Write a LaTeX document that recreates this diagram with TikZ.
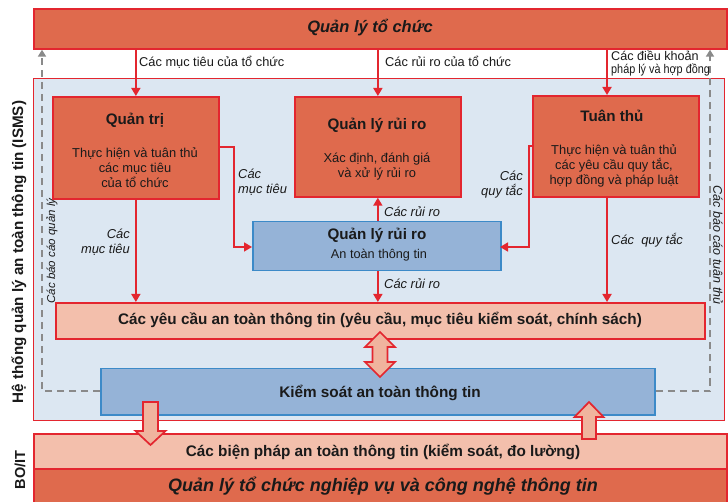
\documentclass[tikz,border=0pt]{standalone}
\usepackage{fontspec}
\setmainfont{Liberation Sans}
\usetikzlibrary{arrows.meta,calc}
\definecolor{redc}{HTML}{E3262F}
\definecolor{orangec}{HTML}{DF6A4D}
\definecolor{salmonc}{HTML}{F3BFAC}
\definecolor{arrowfill}{HTML}{F0B49E}
\definecolor{bluefill}{HTML}{95B3D7}
\definecolor{blueline}{HTML}{3C8AC8}
\definecolor{lightbg}{HTML}{DCE7F2}
\definecolor{txt}{HTML}{1A1A1A}
\definecolor{graydash}{HTML}{8A8A8A}
\tikzset{
  boxbase/.style={anchor=north west, inner sep=0pt, rectangle},
  orangebox/.style={boxbase, draw=redc, fill=orangec, line width=1.7pt},
  salmonbox/.style={boxbase, draw=redc, fill=salmonc, line width=1.7pt},
  bluebox/.style={boxbase, draw=blueline, fill=bluefill, line width=1.5pt},
  redarrow/.style={draw=redc, line width=1.7pt, -{Triangle[length=8pt,width=9pt]}},
  dashgray/.style={draw=graydash, line width=2pt, dash pattern=on 7pt off 5pt},
  blockarrow/.style={draw=redc, fill=arrowfill, line width=1.7pt, line join=miter},
  bartext/.style={font=\fontsize{16.5}{19}\selectfont\bfseries\itshape, text=txt},
  titletext/.style={font=\fontsize{15.2}{18}\selectfont\bfseries, text=txt},
  bodytext/.style={font=\fontsize{12.9}{15}\selectfont, text=txt, align=center},
  bigtext/.style={font=\fontsize{15.3}{18}\selectfont\bfseries, text=txt},
  lbl/.style={font=\fontsize{12.8}{15}\selectfont, text=txt, inner sep=0pt},
  ilbl/.style={font=\fontsize{12.9}{15}\selectfont\itshape, text=txt, inner sep=0pt},
  sidelbl/.style={font=\fontsize{11.5}{13}\selectfont\itshape, text=txt, inner sep=0pt},
}
\begin{document}
\begin{tikzpicture}[x=1pt,y=-1pt]
\useasboundingbox (0,0) rectangle (728,502);
\fill[white] (0,0) rectangle (728,502);

% outer ISMS area
\node[boxbase, draw=redc, fill=lightbg, line width=1.4pt, minimum width=691pt, minimum height=342pt] (isms) at (33,78) {};

% top bar
\node[orangebox, minimum width=693pt, minimum height=40pt] (topbar) at (33,8) {};
\node[bartext] (topbarT) at (370,28) {Quản lý tổ chức};

% dashed report lines
\coordinate (ldash) at (42,391);
\coordinate (rdash) at (710,391);
\node[boxbase, draw=blueline, fill=bluefill, line width=1.5pt, minimum width=554pt, minimum height=46pt] (ks) at (100,368) {};
\draw[dashgray, -{Triangle[length=7pt,width=8pt]}] (ks.west |- ldash) -- (ldash) -- (ldash |- topbar.south);
\draw[dashgray, -{Triangle[length=7pt,width=8pt]}] (ks.east |- rdash) -- (rdash) -- (rdash |- topbar.south);
\node[sidelbl, rotate=90] (lrep) at (52,251) {Các báo cáo quản lý};
\node[sidelbl, rotate=-90, font=\fontsize{12.5}{14}\selectfont\itshape] (rrep) at (718,245) {Các báo cáo tuân thủ};

% three top boxes
\node[orangebox, minimum width=166pt, minimum height=102pt] (qt) at (52,96) {};
\node[titletext] (qtT) at (135,120) {Quản trị};
\node[bodytext] (qtB) at (135,168) {Thực hiện và tuân thủ\\các mục tiêu\\của tổ chức};

\node[orangebox, minimum width=166pt, minimum height=100pt] (qlrr) at (294,96) {};
\node[titletext] (qlrrT) at (377,125) {Quản lý rủi ro};
\node[bodytext] (qlrrB) at (377,166.5) {Xác định, đánh giá\\và xử lý rủi ro};

\node[orangebox, minimum width=166pt, minimum height=101pt] (tt) at (532,95) {};
\node[titletext] (ttT) at (612,116) {Tuân thủ};
\node[bodytext] (ttB) at (614,165.5) {Thực hiện và tuân thủ\\các yêu cầu quy tắc,\\hợp đồng và pháp luật};

% blue risk box
\node[bluebox, minimum width=248pt, minimum height=49pt] (rrb) at (252,221) {};
\node[titletext] (rrbT) at (377,235) {Quản lý rủi ro};
\node[font=\fontsize{12.7}{15}\selectfont, text=txt] (rrbB) at (379,255) {An toàn thông tin};

% requirements box
\node[salmonbox, minimum width=649pt, minimum height=36pt] (yc) at (55,302) {};
\node[bigtext] (ycT) at (380,320) {Các yêu cầu an toàn thông tin (yêu cầu, mục tiêu kiểm soát, chính sách)};

% control box text
\node[bigtext] (ksT) at (380,393) {Kiểm soát an toàn thông tin};

% bottom boxes
\node[salmonbox, minimum width=693pt, minimum height=35pt] (bp) at (33,433) {};
\node[bigtext] (bpT) at (383,452) {Các biện pháp an toàn thông tin (kiểm soát, đo lường)};
\node[orangebox, minimum width=693pt, minimum height=38pt] (bot) at (33,468) {};
\node[bartext, font=\fontsize{18}{20}\selectfont\bfseries\itshape] (botT) at (383,486) {Quản lý tổ chức nghiệp vụ và công nghệ thông tin};

% vertical side labels
\node[font=\fontsize{15.2}{17}\selectfont\bfseries, text=txt, rotate=90] (ismsT) at (19,252) {Hệ thống quản lý an toàn thông tin (ISMS)};
\node[font=\fontsize{14.5}{17}\selectfont\bfseries, text=txt, rotate=90] (boit) at (20,470) {BO/IT};

% top arrows
\coordinate (ttx) at (607,0);
\draw[redarrow] (qt.north |- topbar.south) -- (qt.north);
\draw[redarrow] (qlrr.north |- topbar.south) -- (qlrr.north);
\draw[redarrow] (ttx |- topbar.south) -- (ttx |- tt.north);
\node[lbl, anchor=west] (l1) at (139,62) {Các mục tiêu của tổ chức};
\node[lbl, anchor=west] (l2) at (385,61) {Các rủi ro của tổ chức};
\node[lbl, anchor=west, align=left, font=\fontsize{12.6}{13}\selectfont] (l3) at (611,63.5) {Các điều khoản\\\scalebox{0.86}[1]{pháp lý và hợp đồng}};

% side arrows into blue box
\coordinate (qtbend) at (234,147);
\coordinate (ttbend) at (529,146);
\coordinate (rrbl) at (252,247);
\coordinate (rrbr) at (500,247);
\draw[redarrow] (qt.east |- qtbend) -- (qtbend) -- (qtbend |- rrbl) -- (rrbl);
\draw[redarrow] (tt.west |- ttbend) -- (ttbend) -- (ttbend |- rrbr) -- (rrbr);
\node[ilbl, anchor=west, align=left] (l4) at (238,182.5) {Các\\mục tiêu};
\node[ilbl, anchor=east, align=right] (l5) at (523,184.5) {Các\\quy tắc};

% vertical arrows
\draw[redarrow] (rrb.north -| qlrr.south) -- (qlrr.south);
\draw[redarrow] (rrb.south -| qlrr.south) -- (yc.north -| qlrr.south);
\draw[redarrow] (qt.south) -- (yc.north -| qt.south);
\draw[redarrow] (ttx |- tt.south) -- (ttx |- yc.north);
\node[ilbl, anchor=west] (l6) at (384,212) {Các rủi ro};
\node[ilbl, anchor=west] (l7) at (384,284) {Các rủi ro};
\node[ilbl, anchor=east, align=right] (l8) at (130,242.5) {Các\\mục tiêu};
\node[ilbl, anchor=west] (l9) at (611,240) {Các\ \ quy tắc};

% block arrows
\draw[blockarrow] (380,332) -- (395,347) -- (387.5,347) -- (387.5,362) -- (395,362) -- (380,377) -- (365,362) -- (372.5,362) -- (372.5,347) -- (365,347) -- cycle;
\draw[blockarrow] (143,402) -- (158,402) -- (158,431) -- (165.5,431) -- (150.5,445) -- (135.5,431) -- (143,431) -- cycle;
\draw[blockarrow] (582,439) -- (596,439) -- (596,417) -- (603.5,417) -- (589,402) -- (574.5,417) -- (582,417) -- cycle;
\end{tikzpicture}
\end{document}
